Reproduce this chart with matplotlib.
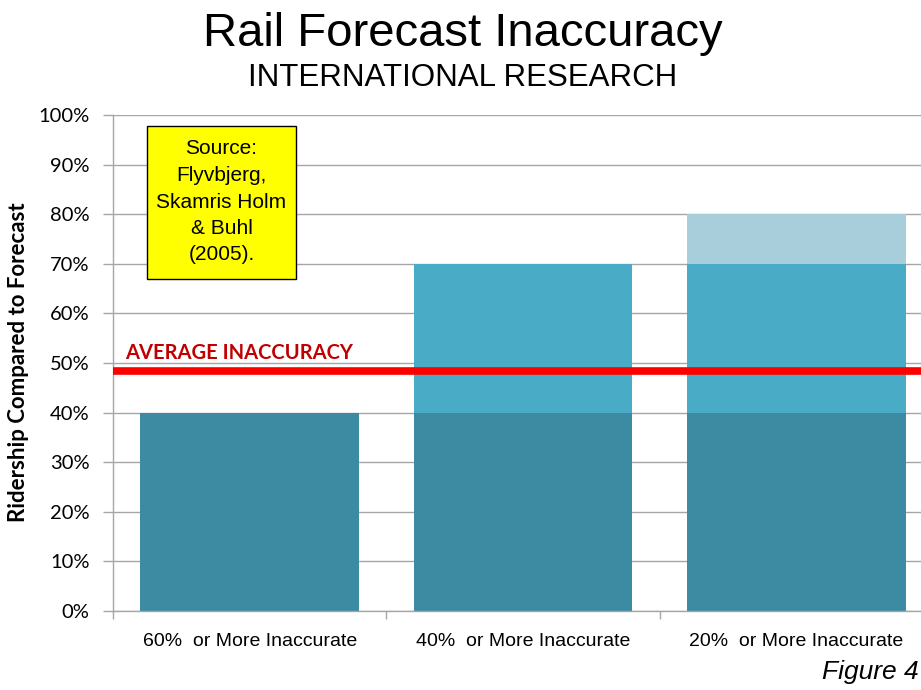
import numpy as np
import matplotlib.pyplot as plt
from matplotlib.patches import Rectangle

# Data
categories = ["60%  or More Inaccurate", "40%  or More Inaccurate", "20%  or More Inaccurate"]
base = [40, 40, 40]
middle = [0, 30, 30]
upper = [0, 0, 10]
average = 48.4
y_ticks = [0, 10, 20, 30, 40, 50, 60, 70, 80, 90, 100]

narrow = ["Liberation Sans Narrow", "Liberation Sans", "DejaVu Sans"]
grid_col = "#A6A6A6"

fig = plt.figure(figsize=(9.21, 6.9), dpi=100)
ax = fig.add_axes([113 / 921, 1 - 611 / 690, 820 / 921, 496 / 690])

x = np.arange(len(categories))
w = 0.8
ax.bar(x, base, w, color="#3D8BA3", zorder=2)
ax.bar(x, middle, w, bottom=base, color="#4AABC6", zorder=2)
ax.bar(x, upper, w, bottom=np.add(base, middle), color="#A8CDDB", zorder=2)

ax.axhline(average, color="#FF0000", lw=5.5, zorder=3)
ax.text(-0.5 + 12 / 273, 50.8, "AVERAGE INACCURACY", color="#C00000", fontsize=14.5,
        fontweight="bold", family=["Lato", "DejaVu Sans"], ha="left", va="baseline", zorder=4)

ax.set_xlim(-0.5, len(categories) - 0.5)
ax.set_ylim(0, 100)
ax.set_yticks(y_ticks)
ax.set_yticklabels([f"{v}%" for v in y_ticks], fontsize=14.5, family=["Lato", "DejaVu Sans"])
ax.yaxis.grid(True, color=grid_col, lw=1, zorder=0)
ax.set_axisbelow(True)

ax.set_xticks(x)
ax.set_xticklabels(categories, fontsize=14, family=narrow)
ax.tick_params(axis="x", length=0, pad=16)
ax.set_xticks(np.arange(len(categories) + 1) - 0.5, minor=True)
ax.tick_params(axis="x", which="minor", length=6, color=grid_col, width=1)
ax.tick_params(axis="y", length=7, color=grid_col, width=1, pad=10)

for s in ["top", "right"]:
    ax.spines[s].set_visible(False)
for s in ["left", "bottom"]:
    ax.spines[s].set_color(grid_col)
    ax.spines[s].set_linewidth(1)

ax.set_ylabel("Ridership Compared to Forecast", fontsize=16, fontweight="bold",
              family=["Lato", "DejaVu Sans"], va="center")
ax.yaxis.set_label_coords((19 - 113) / 820, (611 - 362) / 496)

# Source box
fig.patches.append(Rectangle((147 / 921, 1 - 279 / 690), 149 / 921, 153 / 690,
                             transform=fig.transFigure, fc="#FFFF00", ec="black", lw=1, zorder=5))
fig.text(221.5 / 921, 1 - 202 / 690, "Source:\nFlyvbjerg,\nSkamris Holm\n& Buhl\n(2005).",
         ha="center", va="center", fontsize=15, family=narrow, linespacing=1.5, zorder=6)

fig.text(463 / 921, 1 - 34 / 690, "Rail Forecast Inaccuracy", ha="center", va="center",
         fontsize=34, family=["Liberation Sans", "DejaVu Sans"])
fig.text(463 / 921, 1 - 78 / 690, "INTERNATIONAL RESEARCH", ha="center", va="center",
         fontsize=22.5, family=["Liberation Sans", "DejaVu Sans"])
fig.text(919 / 921, 1 - 672 / 690, "Figure 4", ha="right", va="center", fontsize=19,
         style="italic", family=narrow)

fig.savefig("out.png", dpi=100)
